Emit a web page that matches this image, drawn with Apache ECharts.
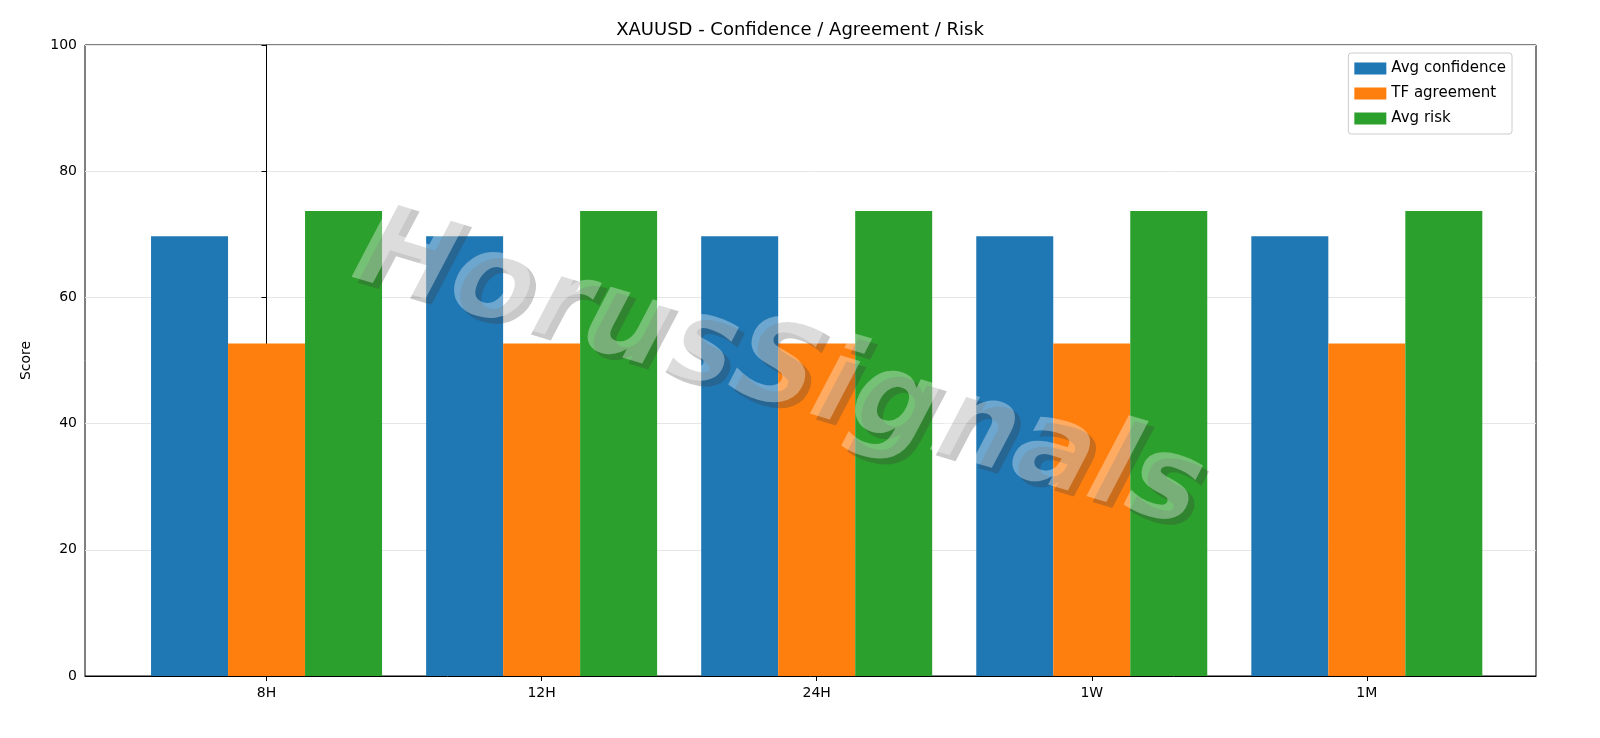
<!DOCTYPE html>
<html><head><meta charset="utf-8">
<script src="https://cdn.jsdelivr.net/npm/echarts@6/dist/echarts.min.js"></script>
<style>html,body{margin:0;padding:0;background:#fff}#c{width:1600px;height:738px}</style>
</head><body><div id="c"></div>
<script>
const categories = ["8H","12H","24H","1W","1M"];
const avgConfidence = [69.7,69.7,69.7,69.7,69.7];
const tfAgreement = [52.7,52.7,52.7,52.7,52.7];
const avgRisk = [73.7,73.7,73.7,73.7,73.7];
const yTicks = [0,20,40,60,80,100];
const font = "DejaVu Sans";
const idx = categories.map((c,i)=>i);
const pts = arr => arr.map((v,i)=>[i,v]);
const chart = echarts.init(document.getElementById('c'));
const wm = {text:"HorusSignals",fontSize:118,fontWeight:'bold',fontStyle:'italic',fontFamily:'DejaVu Sans',align:'center',verticalAlign:'middle'};
chart.setOption({
  animation:false,
  textStyle:{fontFamily:font},
  title:{text:"XAUUSD - Confidence / Agreement / Risk",left:'center',top:16,textStyle:{fontFamily:font,fontWeight:'normal',fontSize:18,color:'#000'}},
  grid:{left:85,right:64,top:45,bottom:62,show:true,borderColor:'#000',borderWidth:1,backgroundColor:'transparent'},
  legend:{right:88,top:53,orient:'vertical',itemWidth:32,itemHeight:12,itemGap:10,
    backgroundColor:'#fff',borderColor:'#ccc',borderWidth:1,borderRadius:3,padding:[8,6,8,6],
    textStyle:{fontFamily:font,fontSize:15,color:'#000'},
    icon:'rect',data:["Avg confidence","TF agreement","Avg risk"]},
  xAxis:{type:'value',min:-0.66,max:4.615,
    axisLine:{lineStyle:{color:'#000'}},
    axisTick:{show:true,customValues:idx,lineStyle:{color:'#000'}},
    axisLabel:{customValues:idx,color:'#000',fontSize:14,fontFamily:font,margin:10,formatter:v=>categories[Math.round(v)]},
    splitLine:{show:false}},
  yAxis:{type:'value',min:0,max:100,interval:20,name:'Score',nameLocation:'middle',nameGap:52,
    nameTextStyle:{color:'#000',fontSize:14,fontFamily:font},
    axisLine:{show:true,lineStyle:{color:'#000'}},axisTick:{show:true,lineStyle:{color:'#000'}},
    axisLabel:{color:'#000',fontSize:14,fontFamily:font,formatter:v=>yTicks.includes(v)?String(v):''},
    splitLine:{lineStyle:{color:'#e6e6e6'}}},
  series:[
    {name:"Avg confidence",type:'bar',data:pts(avgConfidence),itemStyle:{color:'#1f77b4'},barGap:'0%',barWidth:77},
    {name:"TF agreement",type:'bar',data:pts(tfAgreement),itemStyle:{color:'#ff7f0e'},barWidth:77},
    {name:"Avg risk",type:'bar',data:pts(avgRisk),itemStyle:{color:'#2ca02c'},barWidth:77}
  ],
  graphic:[
    {type:'text',x:784,y:378,rotation:-0.29,z:99,style:Object.assign({fill:'rgba(60,60,60,0.28)'},wm)},
    {type:'text',x:778,y:372,rotation:-0.29,z:100,style:Object.assign({fill:'rgba(255,255,255,0.35)'},wm)}
  ]
});
</script></body></html>
